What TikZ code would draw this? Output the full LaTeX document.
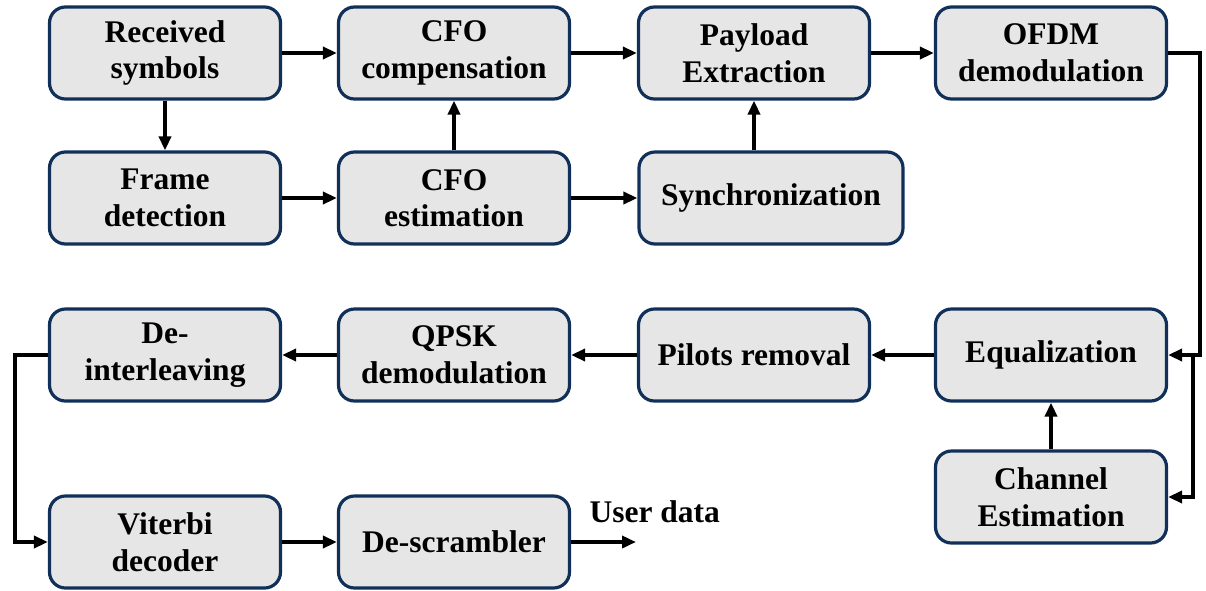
\documentclass[tikz,border=0pt]{standalone}
\usepackage{fontspec}
\setmainfont{Liberation Serif}
\usetikzlibrary{arrows.meta}
\definecolor{boxfill}{HTML}{E6E6E6}
\definecolor{boxline}{HTML}{10305A}
\begin{document}
\begin{tikzpicture}[x=1pt,y=-1pt,
  blk/.style={draw=boxline, fill=boxfill, line width=3.2pt, rounded corners=16pt,
    minimum width=231pt, minimum height=92pt, inner sep=0pt, align=center,
    font=\fontsize{31.5}{36.5}\selectfont\bfseries},
  conn/.style={line width=3.6pt, -{Triangle[length=14pt,width=12pt]}}]
\useasboundingbox (0,0) rectangle (1206,590);
\node[blk] (rec) at (165,53) {Received\\symbols};
\node[blk] (cfoc) at (454,53) {CFO\\compensation};
\node[blk] (pay) at (754,53) {Payload\\Extraction};
\node[blk] (ofdm) at (1051,53) {OFDM\\demodulation};
\node[blk] (frame) at (165,198) {Frame\\detection};
\node[blk] (cfoe) at (454,198) {CFO\\estimation};
\node[blk, minimum width=264pt] (sync) at (771,198) {Synchronization};
\node[blk] (deint) at (165,355) {De-\\interleaving};
\node[blk] (qpsk) at (454,355) {QPSK\\demodulation};
\node[blk] (pil) at (754,355) {Pilots removal};
\node[blk] (eq) at (1051,355) {Equalization};
\node[blk] (ch) at (1051,497) {Channel\\Estimation};
\node[blk] (vit) at (165,542) {Viterbi\\decoder};
\node[blk] (desc) at (454,542) {De-scrambler};
\coordinate (ud) at (636,542);
\node[font=\fontsize{31.5}{36.5}\selectfont\bfseries, anchor=base west] (udl) at (586,522) {User data};
\coordinate (j) at (1193,355);

\draw[conn] (rec.east) -- (cfoc.west);
\draw[conn] (cfoc.east) -- (pay.west);
\draw[conn] (pay.east) -- (ofdm.west);
\draw[conn] (rec.south) -- (frame.north);
\draw[conn] (frame.east) -- (cfoe.west);
\draw[conn] (cfoe.north) -- (cfoc.south);
\draw[conn] (cfoe.east) -- (cfoe.east -| sync.west);
\draw[conn] (sync.north -| pay.south) -- (pay.south);
\draw[conn] (ofdm.east) -- ++(32,0) |- (eq.east);
\draw[conn] (j) |- (ch.east);
\draw[conn] (ch.north) -- (eq.south);
\draw[conn] (eq.west) -- (pil.east);
\draw[conn] (pil.west) -- (qpsk.east);
\draw[conn] (qpsk.west) -- (deint.east);
\draw[conn] (deint.west) -- ++(-33,0) |- (vit.west);
\draw[conn] (vit.east) -- (desc.west);
\draw[conn] (desc.east) -- (ud);
\end{tikzpicture}
\end{document}
